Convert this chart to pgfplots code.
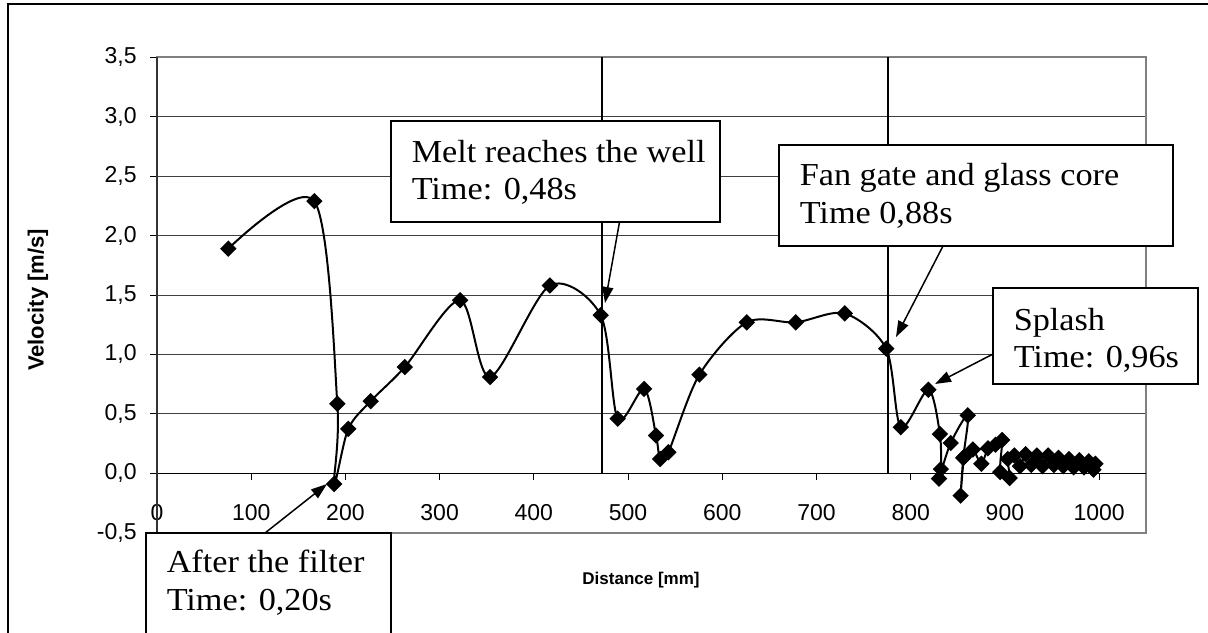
\documentclass[border=0pt]{standalone}
\usepackage{fontspec}
\setmainfont{Liberation Serif}
\setsansfont{Liberation Sans}
\newfontfamily\annotfamily[FakeStretch=1.07]{Liberation Serif}
\usepackage{pgfplots}
\pgfplotsset{compat=1.18}
\usetikzlibrary{arrows.meta}

\newcommand{\annot}{\annotfamily\fontsize{16}{19}\selectfont}

\begin{document}
\begin{tikzpicture}[x=0.5pt,y=-0.5pt]
\useasboundingbox (0,0) rectangle (1208,632);
\begin{axis}[
    at={(78.5pt,-266.35pt)}, anchor=south west,
    scale only axis, width=494.6pt, height=237.7pt,
    xmin=0, xmax=1050, ymin=-0.5, ymax=3.5,
    xtick={0,100,...,1000},
    ytick={-0.5,0,0.5,1,1.5,2,2.5,3,3.5},
    xtick align=inside, xtick style={draw=none},
    ytick align=outside, ytick pos=left,
    major tick length=3.5pt,
    ytick style={black, line width=0.5pt},
    ymajorgrids, major grid style={black!75, line width=0.5pt},
    axis line style={black!50, line width=1pt},
    tick label style={font=\sffamily\fontsize{11.5}{13}\selectfont},
    /pgf/number format/assume math mode=true,
    xticklabel style={anchor=base, inner sep=0pt, yshift=6.35pt,
        /pgf/number format/.cd, fixed, precision=0, 1000 sep={}},
    yticklabel style={anchor=east, inner sep=0pt, xshift=-6.5pt,
        /pgf/number format/.cd, use comma, fixed, fixed zerofill, precision=1},
    clip=false,
]
% x axis at zero with its ticks
\draw[black, line width=0.5pt] (axis cs:0,0) -- (axis cs:1050,0);
\pgfplotsinvokeforeach{0,100,...,1000}{
  \draw[black, line width=0.5pt] (axis cs:#1,0) -- ++(0pt,-3.5pt);
}
\draw[black!80, line width=1pt] (axis cs:0,-0.5) -- (axis cs:0,3.5);
% event lines
\draw[black, line width=0.9pt] (axis cs:472,0) -- (axis cs:472,3.5);
\draw[black, line width=0.9pt] (axis cs:776,0) -- (axis cs:776,3.5);

\addplot[black, line width=1pt, smooth, mark=square*, mark size=2.4pt,
    mark options={rotate=45, solid}] table {
x y
75.7 1.89
167 2.29
191.4 0.585
188 -0.09
203 0.374
226.8 0.607
263 0.894
321.7 1.456
353.5 0.81
417 1.58
471 1.33
489 0.459
517 0.71
529.7 0.318
534 0.12
542.8 0.177
575.7 0.83
626 1.27
678 1.27
730 1.345
774 1.049
789.5 0.388
818.8 0.703
831 0.33
832 0.035
830 -0.045
842.5 0.255
860.6 0.487
855.8 0.13
853 -0.188
857 0.14
866 0.2
875 0.08
882 0.21
890 0.24
897 0.28
895 0.01
905 -0.04
903 0.12
910 0.15
916 0.06
922 0.16
928 0.07
934 0.15
940 0.06
946 0.15
952 0.07
957 0.13
962 0.06
968 0.12
973 0.05
979 0.11
984 0.05
989 0.1
994 0.03
996 0.08
};
\end{axis}

% outer chart frame
\draw[line width=1pt] (8.3,4) rectangle (1230,650);

% axis titles
\node[rotate=90, font=\sffamily\bfseries\fontsize{11}{13}\selectfont] at (38,300) {Velocity [m/s]};
\node[font=\sffamily\bfseries\fontsize{8.5}{10}\selectfont] at (641,580) {Distance [mm]};

% annotations
\begin{scope}[line width=0.75pt]
\draw[fill=white] (146,533) rectangle (391,634);
\node[anchor=base west, inner sep=0pt, font=\annot] at (166,572.7) {After the filter};
\node[anchor=base west, inner sep=0pt, font=\annot] at (166,610) {Time: 0,20s};
\draw[-{Triangle[length=8pt,width=5.5pt]}] (265,533) -- (327,484);

\draw[fill=white] (391,121) rectangle (720,222);
\node[anchor=base west, inner sep=0pt, font=\annot] at (411,162) {Melt reaches the well};
\node[anchor=base west, inner sep=0pt, font=\annot] at (411,199) {Time: 0,48s};
\draw[-{Triangle[length=8pt,width=5.5pt]}] (619.5,222) -- (605,303);

\draw[fill=white] (779,145) rectangle (1173,246);
\node[anchor=base west, inner sep=0pt, font=\annot] at (799,185.7) {Fan gate and glass core};
\node[anchor=base west, inner sep=0pt, font=\annot] at (799,223) {Time 0,88s};
\draw[-{Triangle[length=8pt,width=5.5pt]}] (943,246) -- (896,337);

\draw[fill=white] (993,288) rectangle (1198,384);
\node[anchor=base west, inner sep=0pt, font=\annot] at (1013,330) {Splash};
\node[anchor=base west, inner sep=0pt, font=\annot] at (1013,367) {Time: 0,96s};
\draw[-{Triangle[length=8pt,width=5.5pt]}] (993,354) -- (935,384);
\end{scope}
\end{tikzpicture}
\end{document}
